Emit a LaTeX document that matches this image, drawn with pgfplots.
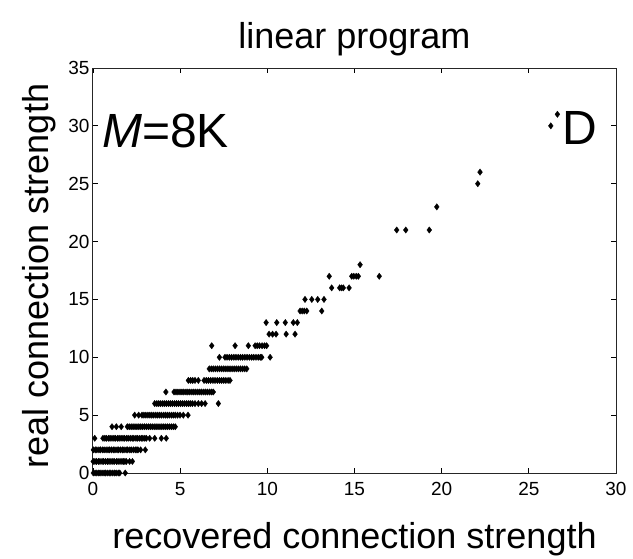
\documentclass[border=0pt]{standalone}
\usepackage{fontspec}
\setmainfont{Liberation Sans}
\usepackage{pgfplots}
\usepackage{pgfplotstable}
\pgfplotsset{compat=1.18}

% recovered (x) vs real (y) connection strength, read row by row
\pgfplotstableread{
x y
0.02 0
0.12 0
0.22 0
0.33 0
0.41 0
0.52 0
0.63 0
0.71 0
0.82 0
0.93 0
1.02 0
1.13 0
1.24 0
1.33 0
1.45 0
1.53 0
1.85 0
0.01 1
0.11 1
0.20 1
0.31 1
0.40 1
0.52 1
0.61 1
0.72 1
0.83 1
0.92 1
1.03 1
1.14 1
1.22 1
1.35 1
1.44 1
1.55 1
1.66 1
1.74 1
1.83 1
1.91 1
2.10 1
2.26 1
0.02 2
0.13 2
0.22 2
0.34 2
0.43 2
0.55 2
0.64 2
0.75 2
0.86 2
0.95 2
1.06 2
1.17 2
1.26 2
1.38 2
1.47 2
1.58 2
1.69 2
1.78 2
1.90 2
1.99 2
2.11 2
2.20 2
2.32 2
2.43 2
2.52 2
2.58 2
2.73 2
3.00 2
0.10 3
0.57 3
0.68 3
0.77 3
0.89 3
0.98 3
1.09 3
1.20 3
1.29 3
1.41 3
1.50 3
1.61 3
1.72 3
1.81 3
1.93 3
2.02 3
2.14 3
2.25 3
2.34 3
2.46 3
2.55 3
2.66 3
2.77 3
2.86 3
2.97 3
3.06 3
3.25 3
3.54 3
3.92 3
4.20 3
1.09 4
1.34 4
1.62 4
1.97 4
2.08 4
2.19 4
2.30 4
2.41 4
2.52 4
2.63 4
2.74 4
2.85 4
2.96 4
3.07 4
3.18 4
3.29 4
3.40 4
3.51 4
3.62 4
3.73 4
3.84 4
3.95 4
4.06 4
4.17 4
4.28 4
4.39 4
4.50 4
4.61 4
4.72 4
2.39 5
2.62 5
2.81 5
2.92 5
3.03 5
3.15 5
3.26 5
3.37 5
3.48 5
3.60 5
3.71 5
3.82 5
3.93 5
4.05 5
4.16 5
4.27 5
4.38 5
4.50 5
4.61 5
4.72 5
4.85 5
4.99 5
5.18 5
5.45 5
3.54 6
3.66 6
3.77 6
3.88 6
4.00 6
4.11 6
4.22 6
4.34 6
4.45 6
4.56 6
4.68 6
4.79 6
4.90 6
5.02 6
5.13 6
5.24 6
5.36 6
5.47 6
5.58 6
5.70 6
5.85 6
6.04 6
6.23 6
6.43 6
7.19 6
4.18 7
4.65 7
4.76 7
4.87 7
4.99 7
5.10 7
5.21 7
5.33 7
5.44 7
5.55 7
5.67 7
5.78 7
5.89 7
6.01 7
6.12 7
6.23 7
6.35 7
6.46 7
6.57 7
6.69 7
6.80 7
6.90 7
5.47 8
5.60 8
5.72 8
5.85 8
6.04 8
6.37 8
6.50 8
6.62 8
6.75 8
6.88 8
7.00 8
7.13 8
7.26 8
7.38 8
7.50 8
7.62 8
7.75 8
7.86 8
6.67 9
6.79 9
6.90 9
7.02 9
7.14 9
7.26 9
7.38 9
7.50 9
7.62 9
7.74 9
7.86 9
7.98 9
8.10 9
8.22 9
8.34 9
8.46 9
8.58 9
8.70 9
8.82 9
7.25 10
7.57 10
7.69 10
7.82 10
7.95 10
8.08 10
8.20 10
8.33 10
8.46 10
8.58 10
8.71 10
8.84 10
8.97 10
9.10 10
9.22 10
9.35 10
9.48 10
9.60 10
9.68 10
10.16 10
6.81 11
8.15 11
8.91 11
9.30 11
9.42 11
9.55 11
9.70 11
9.84 11
9.96 11
10.10 12
10.30 12
10.50 12
11.08 12
11.59 12
9.93 13
10.54 13
11.03 13
11.49 13
11.72 13
11.88 14
12.00 14
12.12 14
12.26 14
13.12 14
12.16 15
12.55 15
12.89 15
13.25 15
13.69 16
14.15 16
14.26 16
14.36 16
14.69 16
13.55 17
14.84 17
14.96 17
15.10 17
15.22 17
16.42 17
15.32 18
17.42 21
17.94 21
19.29 21
19.72 23
22.07 25
22.20 26
26.26 30
26.64 31
}\pts

\begin{document}
\begin{tikzpicture}[x=1pt,y=1pt]
\path[use as bounding box] (0,0) rectangle (633,558);
\begin{axis}[
    at={(93pt,85pt)}, anchor=south west,
    scale only axis,
    width=523pt, height=405pt,
    xmin=0, xmax=30,
    ymin=0, ymax=35,
    xtick={0,5,...,30},
    ytick={0,5,...,35},
    tick pos=both,
    tick align=inside,
    major tick length=5pt,
    tick style={black, line width=0.8pt},
    axis line style={black!85, line width=1pt},
    ticklabel style={font=\fontsize{19}{22}\selectfont},
    xticklabel style={yshift=-6pt},
    /pgf/number format/assume math mode=true,
    clip=false,
]
\addplot[only marks, mark=diamond*, mark size=3.2pt, black,
    mark options={line width=0.3pt}] table[x=x, y=y] {\pts};
\node[anchor=base west, inner sep=0pt, font=\fontsize{48}{58}\selectfont]
    at (axis cs:0.52,28.09) {\textit{M}=8K};
\node[anchor=base west, inner sep=0pt, font=\fontsize{48}{58}\selectfont]
    at (axis cs:26.9,28.35) {D};
\end{axis}
\node[anchor=base, font=\fontsize{36}{43}\selectfont] at (354.5,509) {linear program};
\node[anchor=base, font=\fontsize{36}{43}\selectfont] at (354.5,10) {recovered connection strength};
\node[anchor=base, rotate=90, font=\fontsize{36}{43}\selectfont] at (49,282) {real connection strength};
\end{tikzpicture}
\end{document}
